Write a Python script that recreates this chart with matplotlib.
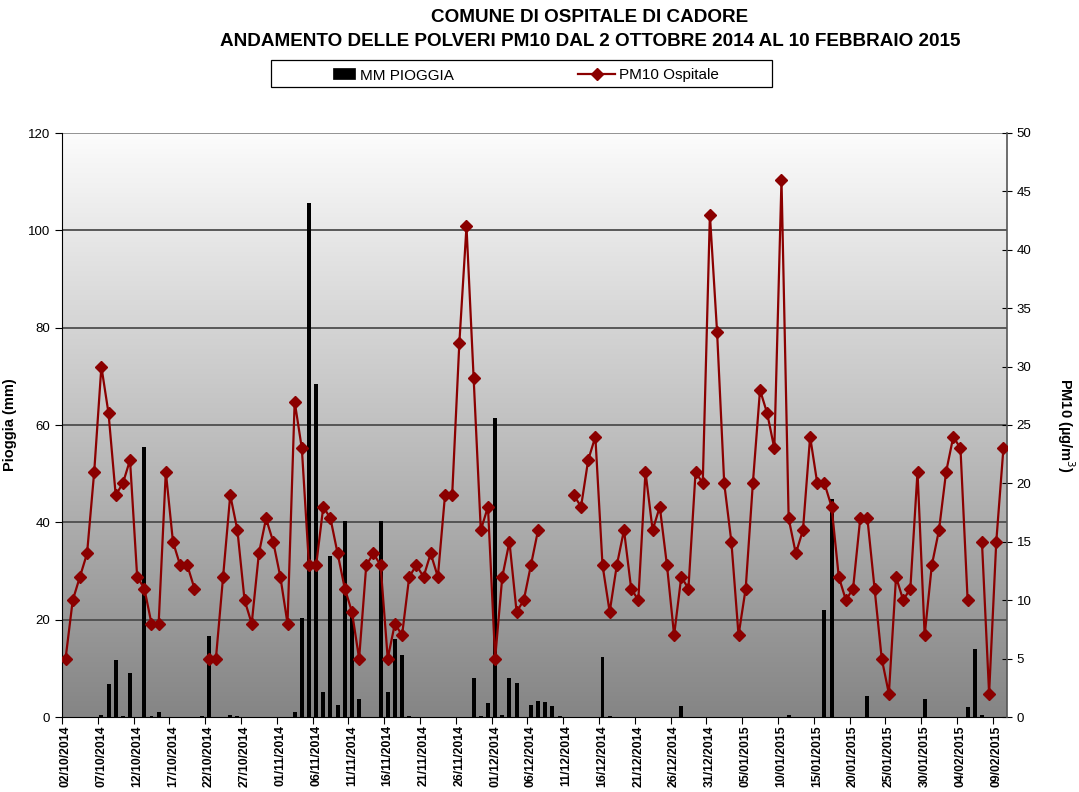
import numpy as np
import pandas as pd
import matplotlib
matplotlib.use("Agg")
import matplotlib.pyplot as plt
from matplotlib.patches import Rectangle
from matplotlib.lines import Line2D

plt.rcParams['font.family'] = ['Liberation Sans', 'DejaVu Sans']

# ---- data ----
dates = pd.date_range("2014-10-02", "2015-02-10", freq="D")
date_labels = [d.strftime("%d/%m/%Y") for d in dates]

rain_mm = [
    0, 0, 0, 0, 0, 0.5, 6.8, 11.8, 0.2, 9.0,
    0, 55.4, 0.2, 1.0, 0, 0, 0, 0, 0, 0.2,
    16.6, 0, 0, 0.5, 0.3, 0, 0, 0, 0, 0,
    0, 0, 1.0, 20.4, 105.6, 68.4, 5.2, 33.0, 2.4, 40.2,
    21.3, 3.6, 0, 0, 40.2, 5.2, 16.0, 12.8, 0.2, 0,
    0, 0, 0, 0, 0, 0, 0, 8.0, 0.2, 2.8,
    61.5, 0.5, 8.0, 7.0, 0, 2.4, 3.2, 3.0, 2.2, 0.2,
    0, 0, 0, 0, 0, 12.4, 0.2, 0, 0, 0,
    0, 0, 0, 0, 0, 0, 2.2, 0, 0, 0,
    0, 0, 0, 0, 0, 0, 0, 0, 0, 0,
    0, 0.4, 0, 0, 0, 0, 22.0, 44.8, 0, 0,
    0, 0, 4.4, 0, 0, 0, 0, 0, 0, 0,
    3.8, 0, 0, 0, 0, 0, 2.0, 14.0, 0.5, 0,
    0, 0,
]

N = None
pm10 = [
    5, 10, 12, 14, 21, 30, 26, 19, 20, 22,
    12, 11, 8, 8, 21, 15, 13, 13, 11, N,
    5, 5, 12, 19, 16, 10, 8, 14, 17, 15,
    12, 8, 27, 23, 13, 13, 18, 17, 14, 11,
    9, 5, 13, 14, 13, 5, 8, 7, 12, 13,
    12, 14, 12, 19, 19, 32, 42, 29, 16, 18,
    5, 12, 15, 9, 10, 13, 16, N, N, N,
    N, 19, 18, 22, 24, 13, 9, 13, 16, 11,
    10, 21, 16, 18, 13, 7, 12, 11, 21, 20,
    43, 33, 20, 15, 7, 11, 20, 28, 26, 23,
    46, 17, 14, 16, 24, 20, 20, 18, 12, 10,
    11, 17, 17, 11, 5, 2, 12, 10, 11, 21,
    7, 13, 16, 21, 24, 23, 10, N, 15, 2,
    15, 23,
]

title_lines = ["COMUNE DI OSPITALE DI CADORE",
               "ANDAMENTO DELLE POLVERI PM10 DAL 2 OTTOBRE 2014 AL 10 FEBBRAIO 2015"]
left_label = "Pioggia (mm)"
right_label = "PM10 (µg/m$^3$)"
rain_name = "MM PIOGGIA"
pm_name = "PM10 Ospitale"

PM_COLOR = '#8b0000'

# ---- figure ----
W, H = 1079, 792
fig = plt.figure(figsize=(W / 100, H / 100), dpi=100)
L, R, T, B = 62, 1007, 133, 717
ax = fig.add_axes([L / W, 1 - B / H, (R - L) / W, (B - T) / H])

n = len(date_labels)
x = np.arange(n) + 0.5
pm_arr = np.array([np.nan if v is None else v for v in pm10], dtype=float)

# gradient background
grad = np.linspace(0, 1, 256).reshape(-1, 1)
top_c = np.array([252, 252, 252]) / 255
bot_c = np.array([133, 133, 133]) / 255
img = top_c[None, None, :] * (1 - grad[:, :, None]) + bot_c[None, None, :] * grad[:, :, None]
ax.imshow(img, extent=[0, n, 0, 120], aspect='auto', origin='upper', zorder=0)

ax.set_xlim(0, n)
ax.set_ylim(0, 120)

for yv in [20, 40, 60, 80, 100]:
    ax.axhline(yv, color='#4d4d4d', lw=1.3, zorder=1)
ax.axhline(120, color='#8a8a8a', lw=1.3, zorder=1)

ax.bar(x, rain_mm, width=0.55, color='black', zorder=2)

ax.set_yticks(np.arange(0, 121, 20))
ax.tick_params(axis='y', direction='out', length=5, labelsize=9.5, colors='black')
for s in ['top', 'right']:
    ax.spines[s].set_visible(False)
ax.spines['left'].set_color('black')
ax.spines['bottom'].set_color('black')

ax.set_xticks(np.arange(0, n, 5))
ax.set_xticklabels([])
ax.set_xticks(np.arange(0, n, 5) + 0.5, minor=True)
ax.set_xticklabels(date_labels[::5], minor=True, rotation=90, fontsize=8.8,
                   fontweight='bold')
ax.tick_params(axis='x', which='major', direction='out', length=5)
ax.tick_params(axis='x', which='minor', length=0, pad=6)

ax.set_ylabel(left_label, fontsize=10.5, fontweight='bold')
ax.yaxis.set_label_coords((17 - L) / (R - L), 0.5)

ax2 = ax.twinx()
ax2.set_ylim(0, 50)
ax2.plot(x, pm_arr, color=PM_COLOR, lw=1.6, marker='D', markersize=6,
         markerfacecolor=PM_COLOR, markeredgecolor=PM_COLOR, zorder=5)
ax2.set_yticks(np.arange(0, 51, 5))
ax2.tick_params(axis='y', direction='inout', length=7, labelsize=9.5)
for s in ['top', 'left', 'bottom']:
    ax2.spines[s].set_visible(False)
ax2.spines['right'].set_color('#555555')
ax2.spines['right'].set_linewidth(1.2)
ax2.set_ylabel(right_label, fontsize=10.5, fontweight='bold', rotation=270,
               va='center')
ax2.yaxis.set_label_coords((1066 - L) / (R - L), 0.5)

# titles
fig.text(590 / W, 1 - 17 / H, title_lines[0], ha='center', va='center',
         fontsize=13.6, fontweight='bold')
fig.text(590 / W, 1 - 42 / H, title_lines[1], ha='center', va='center',
         fontsize=13.6, fontweight='bold')

# legend (drawn manually in figure pixel coordinates)
def fx(px):
    return px / W

def fy(py):
    return 1 - py / H

fig.patches.append(Rectangle((fx(271), fy(87)), fx(772) - fx(271), fy(60) - fy(87),
                             transform=fig.transFigure, facecolor='white',
                             edgecolor='black', lw=0.9, zorder=10))
fig.patches.append(Rectangle((fx(333), fy(79)), fx(355) - fx(333), fy(68) - fy(79),
                             transform=fig.transFigure, facecolor='black',
                             edgecolor='black', lw=0.5, zorder=11))
fig.text(fx(360), fy(74), rain_name, ha='left', va='center_baseline', fontsize=11, zorder=11)
fig.lines.append(Line2D([fx(578), fx(615)], [fy(73.5), fy(73.5)],
                        transform=fig.transFigure, color=PM_COLOR, lw=1.6, zorder=11))
fig.lines.append(Line2D([fx(596.5)], [fy(73.5)], transform=fig.transFigure,
                        color=PM_COLOR, marker='D', markersize=6, zorder=12))
fig.text(fx(619), fy(74), pm_name, ha='left', va='center_baseline', fontsize=11, zorder=11)

fig.savefig("out.png", dpi=100)
